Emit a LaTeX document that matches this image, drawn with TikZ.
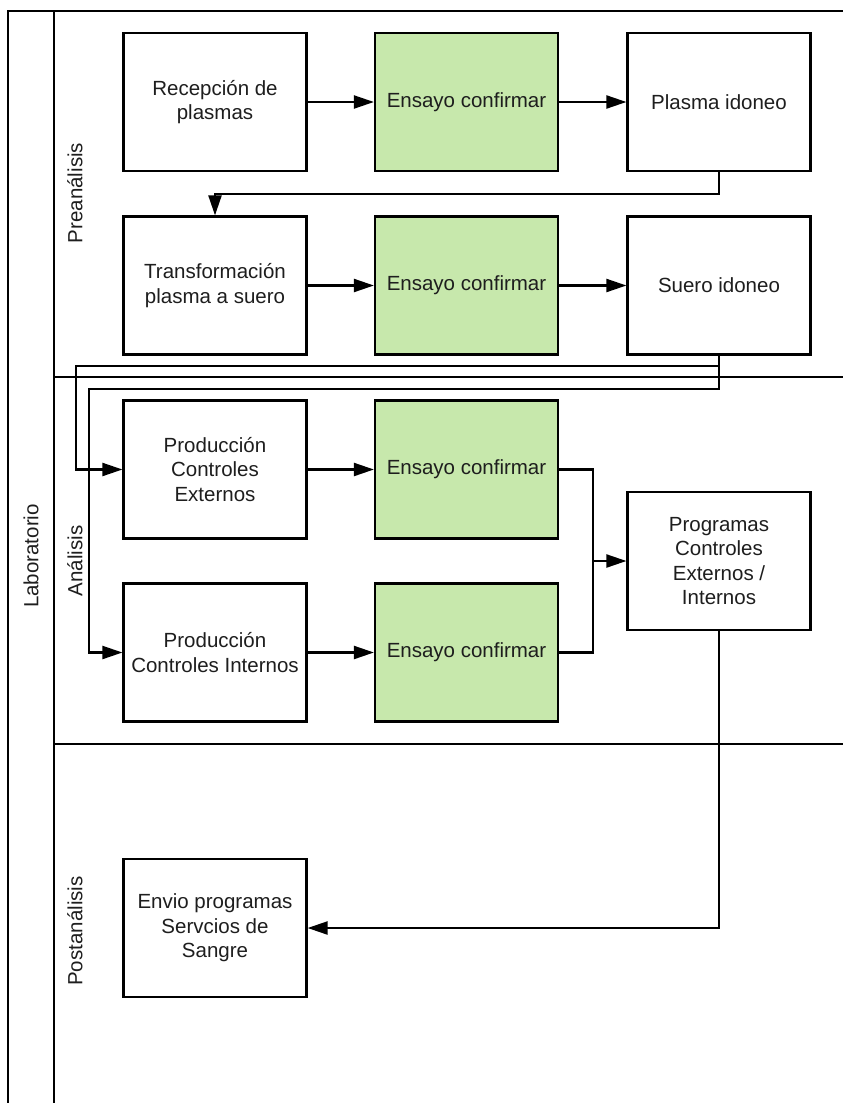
\documentclass[tikz,border=0pt]{standalone}
\usepackage{fontspec}
\setmainfont{Liberation Sans}
\usetikzlibrary{arrows.meta}
\definecolor{boxgreen}{RGB}{199,232,172}
\definecolor{txt}{RGB}{30,30,30}
\begin{document}
\begin{tikzpicture}[x=1pt,y=-1pt,
  box/.style={draw=black,line width=2.2pt,minimum width=183pt,minimum height=138pt,
    align=center,inner sep=2pt,text=txt,font=\fontsize{20.5}{24.5}\selectfont},
  gbox/.style={box,fill=boxgreen},
  lane/.style={line width=2.2pt,draw=black},
  conn/.style={line width=2.2pt,draw=black},
  arr/.style={conn,-{Triangle[length=20pt,width=13pt]}},
  lbl/.style={rotate=90,text=txt,font=\fontsize{20.5}{24.5}\selectfont,inner sep=0pt}]
\useasboundingbox (0,0) rectangle (843,1103);
\fill[white] (0,0) rectangle (843,1103);
% frame
\draw[lane] (844,11) -- (8,11) -- (8,1104);
\draw[lane] (54,11) -- (54,1104);
\draw[lane] (54,377) -- (844,377);
\draw[lane] (54,744) -- (844,744);
% lane labels
\node[lbl] (lab) at (31,556) {Laboratorio};
\node[lbl] (pre) at (75,193) {Preanálisis};
\node[lbl] (ana) at (75,561) {Análisis};
\node[lbl] (post) at (75,931) {Postanálisis};
% boxes
\node[box]  (rec)   at (215,102)   {Recepción de\\plasmas};
\node[gbox] (ens1)  at (466.5,102) {Ensayo confirmar};
\node[box]  (plas)  at (719,102)   {Plasma idoneo};
\node[box]  (trans) at (215,285.5) {Transformación\\plasma a suero};
\node[gbox] (ens2)  at (466.5,285.5) {Ensayo confirmar};
\node[box]  (suero) at (719,285.5) {Suero idoneo};
\node[box]  (pext)  at (215,469.5) {Producción\\Controles\\Externos};
\node[gbox] (ens3)  at (466.5,469.5) {Ensayo confirmar};
\node[box]  (pint)  at (215,652.5) {Producción\\Controles Internos};
\node[gbox] (ens4)  at (466.5,652.5) {Ensayo confirmar};
\node[box]  (prog)  at (719,561)   {Programas\\Controles\\Externos /\\Internos};
\node[box]  (env)   at (215,928)   {Envio programas\\Servcios de\\Sangre};
% connectors
\coordinate (j1) at (719,194);
\coordinate (j2) at (719,366);
\coordinate (j3) at (76,366);
\coordinate (j4) at (719,389);
\coordinate (j5) at (89,389);
\coordinate (m) at (593,561);
\draw[arr] (rec) -- (ens1);
\draw[arr] (ens1) -- (plas);
\draw[arr] (trans) -- (ens2);
\draw[arr] (ens2) -- (suero);
\draw[arr] (plas.south) -- (j1) -| (trans.north);
\draw[arr] (suero.south) -- (j2) -- (j3) |- (pext.west);
\draw[arr] (suero.south) -- (j4) -- (j5) |- (pint.west);
\draw[arr] (pext) -- (ens3);
\draw[arr] (pint) -- (ens4);
\draw[conn] (ens3.east) -| (m);
\draw[conn] (ens4.east) -| (m);
\draw[arr] (m) -- (prog.west);
\draw[arr] (prog.south) |- (env.east);
\end{tikzpicture}
\end{document}
